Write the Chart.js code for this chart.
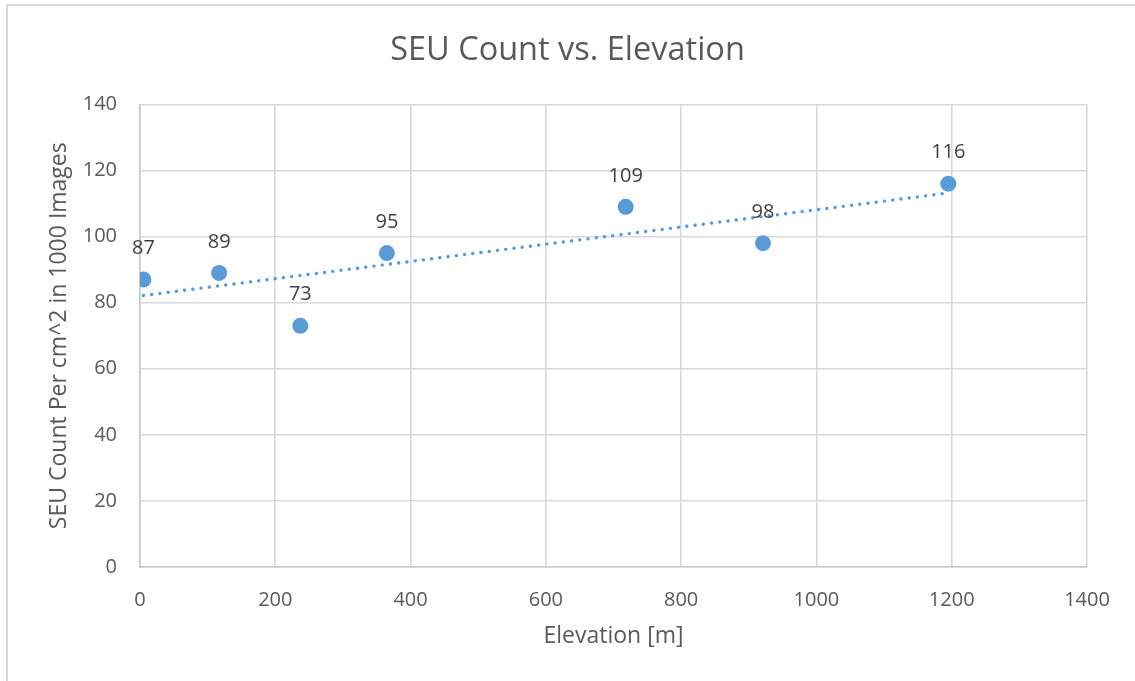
<!DOCTYPE html>
<html>
<head>
<meta charset="utf-8">
<script src="https://cdn.jsdelivr.net/npm/chart.js@4.4.1/dist/chart.umd.min.js"></script>
<style>
  html, body { margin: 0; padding: 0; background: #ffffff; }
  #wrap { width: 1135px; height: 681px; position: relative; }
</style>
</head>
<body>
<div id="wrap"><canvas id="chart" width="1135" height="681"></canvas></div>
<script>
// Measured elevations (m) and SEU counts per cm^2 in 1000 images
const elevations = [5, 117, 237, 365, 718, 921, 1195];
const seuCounts = [87, 89, 73, 95, 109, 98, 116];

const xTicks = [0, 200, 400, 600, 800, 1000, 1200, 1400];
const yTicks = [0, 20, 40, 60, 80, 100, 120, 140];

const FONT = "'Open Sans', 'Noto Sans', sans-serif";
const BLUE = '#5B9BD5';
const TEXT = '#595959';

// Least-squares linear trendline over the data range
function linearFit(xs, ys) {
  const n = xs.length;
  const mx = xs.reduce((a, b) => a + b, 0) / n;
  const my = ys.reduce((a, b) => a + b, 0) / n;
  let sxy = 0, sxx = 0;
  for (let i = 0; i < n; i++) {
    sxy += (xs[i] - mx) * (ys[i] - my);
    sxx += (xs[i] - mx) * (xs[i] - mx);
  }
  const slope = sxy / sxx;
  return { slope, intercept: my - slope * mx };
}
const fit = linearFit(elevations, seuCounts);
const xMin = Math.min(...elevations), xMax = Math.max(...elevations);
const trendPoints = [
  { x: xMin, y: fit.intercept + fit.slope * xMin },
  { x: xMax, y: fit.intercept + fit.slope * xMax }
];

const points = elevations.map((x, i) => ({ x, y: seuCounts[i] }));

// Value labels above each marker
const valueLabels = {
  id: 'valueLabels',
  afterDatasetsDraw(chart) {
    const meta = chart.getDatasetMeta(0);
    const ctx = chart.ctx;
    ctx.save();
    ctx.font = `20px ${FONT}`;
    ctx.fillStyle = '#404040';
    ctx.textAlign = 'center';
    ctx.textBaseline = 'middle';
    meta.data.forEach((el, i) => {
      ctx.fillText(String(seuCounts[i]), el.x, el.y - 31);
    });
    ctx.restore();
  }
};

// Thin frame around the chart
const frame = {
  id: 'frame',
  beforeDraw(chart) {
    const ctx = chart.ctx;
    ctx.save();
    ctx.strokeStyle = '#D9D9D9';
    ctx.lineWidth = 2;
    ctx.beginPath();
    ctx.moveTo(7, 690);
    ctx.lineTo(7, 5);
    ctx.lineTo(1140, 5);
    ctx.stroke();
    ctx.restore();
  }
};

const plainNumber = v => String(v);

new Chart(document.getElementById('chart'), {
  type: 'scatter',
  data: {
    datasets: [
      {
        label: 'SEU Count',
        data: points,
        backgroundColor: BLUE,
        borderColor: BLUE,
        pointRadius: 8,
        pointHoverRadius: 8,
        pointBorderWidth: 0
      },
      {
        label: 'Linear trend',
        type: 'line',
        data: trendPoints,
        borderColor: BLUE,
        borderWidth: 3.4,
        borderDash: [0.1, 8.2],
        borderCapStyle: 'round',
        pointRadius: 0,
        fill: false
      }
    ]
  },
  options: {
    responsive: false,
    animation: false,
    events: [],
    layout: { padding: { left: 0, right: 0, top: 0, bottom: 0 } },
    plugins: {
      legend: { display: false },
      tooltip: { enabled: false },
      title: {
        display: true,
        text: 'SEU Count vs. Elevation',
        color: TEXT,
        font: { family: FONT, size: 32.5, weight: 'normal', lineHeight: 1.2 },
        padding: { top: 31, bottom: 34.4 }
      }
    },
    scales: {
      x: {
        type: 'linear',
        min: 0,
        max: 1400,
        afterBuildTicks(scale) { scale.ticks = xTicks.map(v => ({ value: v })); },
        afterFit(scale) { scale.height = 114; },
        ticks: {
          color: TEXT,
          font: { family: FONT, size: 20 },
          padding: 21,
          maxRotation: 0,
          callback: plainNumber
        },
        grid: { color: '#D9D9D9', lineWidth: 1.6, drawTicks: false },
        border: { color: '#C8C8C8', width: 1.6 },
        title: {
          display: true,
          text: 'Elevation [m]',
          color: TEXT,
          font: { family: FONT, size: 23, weight: 'normal', lineHeight: 1.2 },
          padding: { top: 0, bottom: 31 }
        }
      },
      y: {
        type: 'linear',
        min: 0,
        max: 140,
        afterBuildTicks(scale) { scale.ticks = yTicks.map(v => ({ value: v })); },
        afterFit(scale) { scale.width = 140; },
        ticks: {
          color: TEXT,
          font: { family: FONT, size: 20 },
          padding: 23,
          callback: plainNumber
        },
        grid: { color: '#D9D9D9', lineWidth: 1.6, drawTicks: false },
        border: { color: '#C8C8C8', width: 1.6 },
        title: {
          display: true,
          text: 'SEU Count Per cm^2 in 1000 Images',
          color: TEXT,
          font: { family: FONT, size: 23, weight: 'normal', lineHeight: 1.2 },
          padding: { top: 46, bottom: 0 }
        }
      },
      // empty right-hand margin so the title centres on the whole chart
      yRight: {
        type: 'linear',
        position: 'right',
        display: true,
        min: 0,
        max: 140,
        afterFit(scale) { scale.width = 48; },
        ticks: { display: false },
        grid: { display: false, drawTicks: false },
        border: { display: false },
        title: { display: false }
      }
    }
  },
  plugins: [frame, valueLabels]
});
</script>
</body>
</html>
